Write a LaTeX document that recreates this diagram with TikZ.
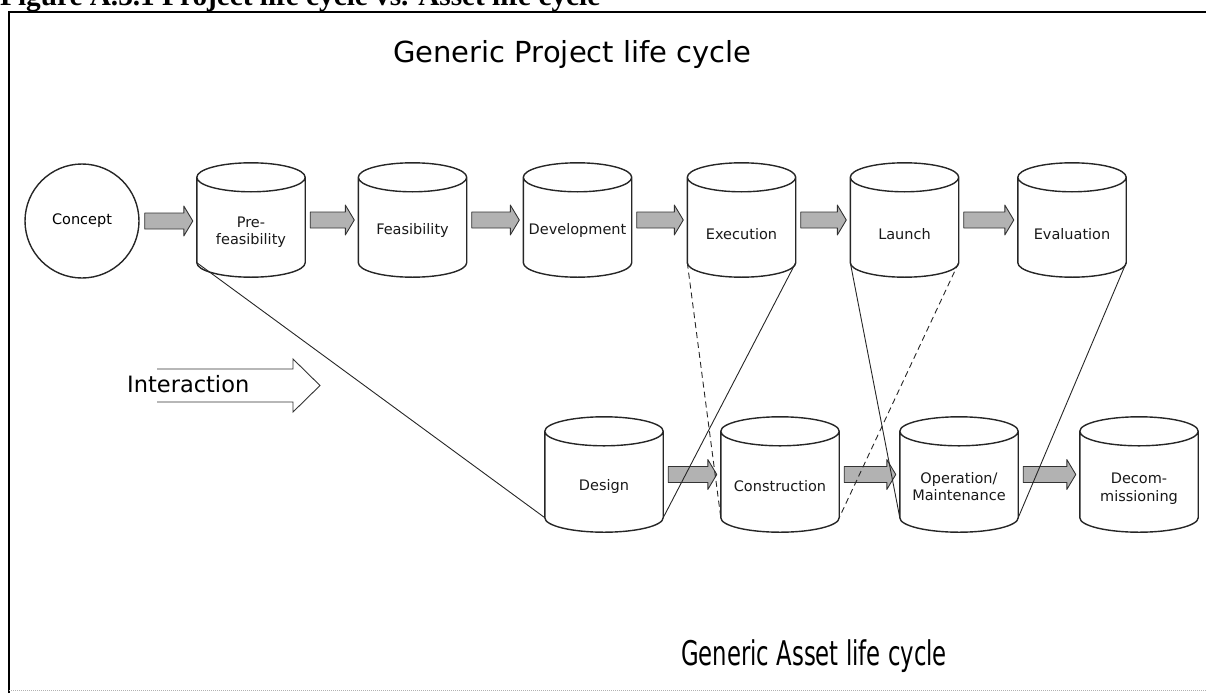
\documentclass[tikz,border=0pt]{standalone}
\usepackage{fontspec}
\setmainfont{DejaVu Sans}
\newfontfamily\capfont{Liberation Serif}
\usetikzlibrary{calc}
\tikzset{
  cyltop/.style={minimum width=108pt, minimum height=114pt, inner sep=0pt},
  cylbot/.style={minimum width=118pt, minimum height=115pt, inner sep=0pt},
  lab/.style={font=\fontsize{14.5}{17.5}\selectfont, align=center, inner sep=0pt, yshift=-12pt, text=black!90},
  cylline/.style={draw=black!85, line width=1.4pt},
  blockarrow/.style={draw=black!80, fill=gray!60, line width=0.9pt, line join=round},
  link/.style={draw=black!85, line width=0.9pt},
  dlink/.style={draw=black!85, line width=0.9pt, dash pattern=on 6pt off 4pt},
  openarrow/.style={draw=black!80, line width=0.9pt, line join=miter}
}
\newcommand\cylshape[1]{%
  \draw[cylline] let \p1=(#1.north west), \p2=(#1.south east), \n1={(\x2-\x1)/2} in
    (\x1,\y1-14.5pt) -- (\x1,\y2+14.5pt)
    arc[start angle=180, end angle=360, x radius=\n1, y radius=14.5pt]
    -- (\x2,\y1-14.5pt)
    arc[start angle=0, end angle=180, x radius=\n1, y radius=14.5pt]
    arc[start angle=180, end angle=360, x radius=\n1, y radius=14.5pt];}
\newcommand\barr[2]{%
  \draw[blockarrow] let \p1=($(#1.east)+(5pt,0pt)$), \p2=($(#2.west)+(-4pt,0pt)$) in
    (\x1,\y1+8pt) -- (\x2-9pt,\y1+8pt) -- (\x2-9pt,\y1+15pt) -- (\x2,\y1)
    -- (\x2-9pt,\y1-15pt) -- (\x2-9pt,\y1-8pt) -- (\x1,\y1-8pt) -- cycle;}
\begin{document}
\begin{tikzpicture}[x=1pt, y=-1pt]
\useasboundingbox (0,0) rectangle (1206,693);
% caption (cut off at the top, as in the source)
\node[anchor=base west, inner sep=0pt] (caption) at (0,6)
  {\resizebox{600pt}{!}{\capfont\bfseries\fontsize{24}{24}\selectfont Figure A.3.1 Project life cycle vs. Asset life cycle}};
% frame
\draw[line width=2pt, black] (8.5,693) -- (8.5,12.5) -- (1206,12.5);
\draw[gray!60, line width=1pt, densely dotted] (9,690) -- (1206,690);
% titles
\node[anchor=base, inner sep=0pt, font=\fontsize{29}{31}\selectfont] (ptitle) at (572.5,63) {Generic Project life cycle};
\node[anchor=base, inner sep=0pt] (atitle) at (814,665) {\scalebox{0.67}[1]{\fontsize{34}{36}\selectfont Generic Asset life cycle}};
% project life cycle
\node[circle, draw=black!85, line width=1.4pt, minimum size=114pt, inner sep=0pt, font=\fontsize{14.5}{17.5}\selectfont] (concept) at (82,221) {Concept};
\node[cyltop, label={[lab]center:{Pre-\\feasibility}}] (pre) at (251,220) {};
\node[cyltop, label={[lab,yshift=2pt]center:Feasibility}] (feas) at (412.5,220) {};
\node[cyltop, label={[lab,yshift=2pt]center:Development}] (dev) at (577.5,220) {};
\node[cyltop, label={[lab,yshift=-2pt]center:Execution}] (exec) at (741.5,220) {};
\node[cyltop, label={[lab,yshift=-2pt]center:Launch}] (launch) at (904.5,220) {};
\node[cyltop, label={[lab,yshift=-2pt]center:Evaluation}] (eval) at (1072,220) {};
% asset life cycle
\node[cylbot, label={[lab]center:Design}] (design) at (604,474.5) {};
\node[cylbot, label={[lab]center:Construction}] (constr) at (780,474.5) {};
\node[cylbot, label={[lab]center:{Operation/\\Maintenance}}] (oper) at (959,474.5) {};
\node[cylbot, label={[lab,yshift=-2pt]center:{Decom-\\missioning}}] (decom) at (1139,474.5) {};
\foreach \c in {pre,feas,dev,exec,launch,eval,design,constr,oper,decom} {\cylshape{\c}}
% block arrows
\barr{concept}{pre}
\barr{pre}{feas}
\barr{feas}{dev}
\barr{dev}{exec}
\barr{exec}{launch}
\barr{launch}{eval}
\barr{design}{constr}
\barr{constr}{oper}
\barr{oper}{decom}
% interaction lines
\draw[link] ($(pre.south west)+(0pt,14.5pt)$) -- ($(design.south west)+(0pt,14.5pt)$);
\draw[link] ($(exec.south east)+(0pt,14.5pt)$) -- ($(design.south east)+(0pt,14.5pt)$);
\draw[dlink] ($(exec.south west)+(0pt,14.5pt)$) -- ($(constr.south west)+(0pt,14.5pt)$);
\draw[link] ($(launch.south west)+(0pt,14.5pt)$) -- ($(oper.south west)+(0pt,14.5pt)$);
\draw[dlink] ($(launch.south east)+(0pt,14.5pt)$) -- ($(constr.south east)+(0pt,14.5pt)$);
\draw[link] ($(eval.south east)+(0pt,14.5pt)$) -- ($(oper.south east)+(0pt,14.5pt)$);
% interaction arrow
\draw[openarrow] (157,369) -- (293,369) -- (293,359) -- (320,385.5) -- (293,412) -- (293,402) -- (157,402);
\node[anchor=base west, inner sep=0pt, font=\fontsize{22.5}{24}\selectfont] (inter) at (127,392) {Interaction};
\end{tikzpicture}
\end{document}
